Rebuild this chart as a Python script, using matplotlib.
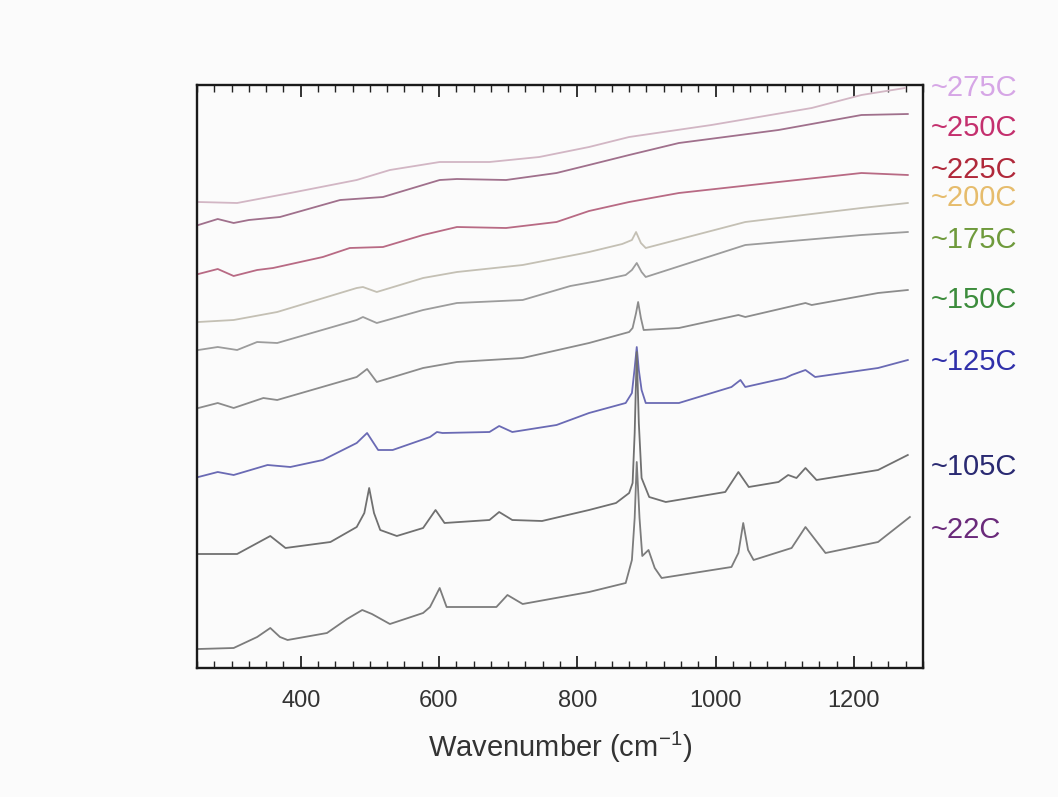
import matplotlib
matplotlib.use("Agg")
import matplotlib.pyplot as plt
import matplotlib.transforms as mtransforms

plt.rcParams['font.family'] = ['Liberation Sans', 'DejaVu Sans']
plt.rcParams['mathtext.fontset'] = 'custom'
plt.rcParams['mathtext.rm'] = 'Liberation Sans'
plt.rcParams['mathtext.default'] = 'regular'

# ---------------- data (wavenumber, offset intensity in arbitrary units) -------------
labels = ["~275C", "~250C", "~225C", "~200C", "~175C", "~150C", "~125C", "~105C", "~22C"]

w_275 = [252, 308, 385, 481, 529, 601, 673, 745, 817, 875, 994, 1139, 1211, 1274]
i_275 = [466, 465, 475, 488, 498, 506, 506, 511, 521, 531, 543, 560, 573, 580]

w_250 = [252, 280, 303, 325, 370, 457, 519, 601, 626, 697, 770, 817, 875, 947, 1091, 1211, 1278]
i_250 = [443, 449, 445, 448, 451, 468, 471, 488, 489, 488, 495, 503, 513, 525, 538, 553, 554]

w_225 = [252, 280, 303, 337, 360, 432, 471, 519, 577, 626, 697, 770, 817, 875, 947, 1091, 1211, 1278]
i_225 = [394, 399, 392, 398, 400, 411, 420, 421, 433, 441, 440, 446, 457, 466, 475, 486, 495, 493]

w_200 = [252, 303, 366, 481, 490, 510, 577, 626, 721, 803, 817, 865, 879, 885, 892, 899, 1043, 1211, 1278]
i_200 = [346, 348, 356, 380, 381, 376, 390, 396, 403, 414, 416, 424, 428, 436, 425, 420, 446, 460, 465]

w_175 = [252, 280, 308, 337, 366, 481, 490, 510, 577, 626, 721, 790, 830, 870, 879, 886, 893, 899, 1043, 1211, 1278]
i_175 = [318, 321, 318, 326, 325, 348, 351, 345, 358, 365, 368, 382, 387, 393, 398, 405, 396, 391, 423, 433, 436]

w_150 = [252, 280, 303, 346, 366, 481, 496, 510, 577, 626, 721, 817, 875, 880, 885, 888, 892, 896, 947, 1033, 1043, 1130, 1139, 1235, 1278]
i_150 = [260, 265, 260, 270, 268, 291, 299, 286, 300, 306, 310, 325, 336, 340, 355, 366, 350, 338, 340, 353, 351, 365, 363, 375, 378]

w_125 = [252, 280, 303, 352, 385, 432, 481, 496, 512, 533, 587, 597, 605, 673, 687, 706, 770, 817, 870, 879, 883, 886, 889, 893, 899, 947, 1023, 1036, 1043, 1101, 1110, 1130, 1144, 1235, 1278]
i_125 = [191, 196, 193, 203, 201, 208, 225, 235, 218, 218, 231, 236, 235, 236, 242, 236, 243, 255, 265, 275, 300, 321, 298, 278, 265, 265, 281, 288, 281, 290, 293, 298, 291, 300, 308]

w_105 = [252, 308, 356, 378, 443, 481, 492, 499, 506, 515, 539, 577, 595, 608, 673, 687, 706, 749, 817, 856, 875, 880, 883, 886, 889, 893, 904, 928, 1014, 1033, 1048, 1091, 1105, 1117, 1130, 1146, 1235, 1278]
i_105 = [114, 114, 132, 120, 126, 141, 155, 180, 155, 138, 132, 140, 158, 145, 148, 156, 148, 147, 158, 165, 175, 185, 235, 316, 245, 190, 171, 166, 176, 196, 181, 186, 193, 190, 200, 188, 198, 213]

w_22 = [252, 303, 337, 356, 370, 381, 438, 467, 489, 503, 529, 577, 587, 601, 611, 683, 699, 721, 817, 870, 879, 883, 886, 890, 894, 903, 912, 922, 1023, 1033, 1040, 1047, 1055, 1110, 1130, 1159, 1235, 1281]
i_22 = [19, 20, 31, 40, 31, 28, 35, 49, 58, 54, 44, 55, 61, 80, 61, 61, 73, 64, 76, 85, 108, 150, 206, 150, 112, 118, 100, 90, 101, 115, 145, 118, 108, 120, 141, 115, 126, 151]

series_w = [w_275, w_250, w_225, w_200, w_175, w_150, w_125, w_105, w_22]
series_i = [i_275, i_250, i_225, i_200, i_175, i_150, i_125, i_105, i_22]

line_colors = ['#d2b6c4', '#a0708c', '#b86a84', '#c4c0b4', '#9c9c9c', '#8c8c8c', '#6a6ab4', '#707070', '#7c7c7c']
label_colors = ['#d6a6e6', '#c4306e', '#b0283a', '#e6bc6c', '#6f9a3c', '#3c8c3c', '#3030aa', '#2a2a72', '#6a2a7a']
label_y = [580, 540, 498, 470, 428, 368, 306, 201, 138]

xticks = [400, 600, 800, 1000, 1200]

# ---------------- figure ----------------
W, H = 1058, 797
fig = plt.figure(figsize=(W / 100, H / 100), dpi=100, facecolor='#fbfbfb')
ax = fig.add_axes([197 / W, 1 - 668 / H, 726 / W, 583 / H])
ax.set_facecolor('#fbfbfb')

for w, i, c in zip(series_w, series_i, line_colors):
    ax.plot(w, i, color=c, lw=1.3, solid_joinstyle='round')

ax.set_xlim(250, 1300)
ax.set_ylim(0, 583)
ax.set_yticks([])
ax.set_xticks(xticks)
ax.set_xticklabels([str(t) for t in xticks])
ax.xaxis.set_minor_locator(matplotlib.ticker.MultipleLocator(25))
ax.tick_params(axis='x', which='both', direction='in', top=True, bottom=True,
               labelsize=17, labelcolor='#333333', color='#222222')
ax.tick_params(axis='x', which='major', length=8.5, width=1.3, pad=16)
ax.tick_params(axis='x', which='minor', length=5, width=1.0)
for s in ax.spines.values():
    s.set_linewidth(1.7)
    s.set_color('#1a1a1a')

ax.set_xlabel('Wavenumber (cm$^{-1}$)', fontsize=21, color='#333333', labelpad=13)

trans = mtransforms.blended_transform_factory(ax.transAxes, ax.transData)
for lab, y, c in zip(labels, label_y, label_colors):
    ax.text(1.01, y, lab, transform=trans, color=c, fontsize=21,
            ha='left', va='center', clip_on=False)

fig.savefig('out.png', dpi=100, facecolor=fig.get_facecolor())
